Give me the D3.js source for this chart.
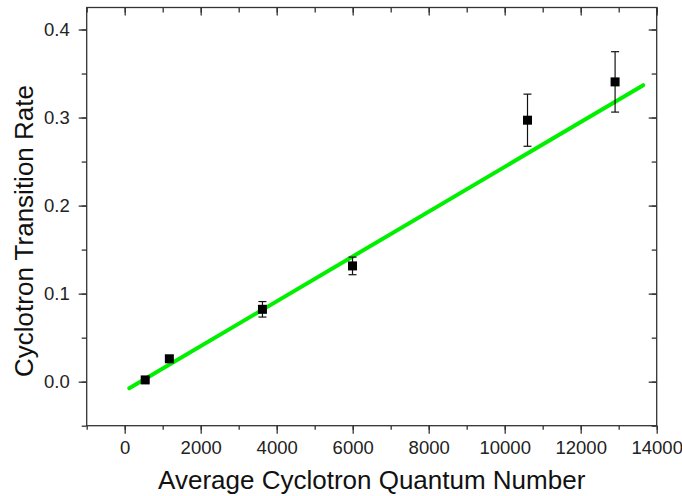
<!DOCTYPE html>
<html>
<head>
<meta charset="utf-8">
<script src="https://cdn.jsdelivr.net/npm/d3@7"></script>
<style>
  body { margin: 0; background: #fff; }
  .axis text { font-family: "Liberation Sans", Arial, sans-serif; font-size: 18.5px; fill: #222; }
  .axis path, .axis line { stroke: #333; stroke-width: 1.3; }
  .title { font-family: "Liberation Sans", Arial, sans-serif; font-size: 26px; fill: #111; }
</style>
</head>
<body>
<div class="chart"></div>
<script>
// data
var quantumNumber = [540, 1175, 3625, 5995, 10600, 12905];
var transitionRate = [0.002, 0.026, 0.0822, 0.1315, 0.297, 0.3405];
var rateError = [0, 0, 0.0088, 0.0100, 0.0296, 0.0343];

// linear fit end points
var fitX = [120, 13645];
var fitY = [-0.0075, 0.3368];

var xMajorTicks = [0, 2000, 4000, 6000, 8000, 10000, 12000, 14000];
var yMajorTicks = [0.0, 0.1, 0.2, 0.3, 0.4];

var svgWidth = 682, svgHeight = 496;
var margin = { top: 7.5, right: 25.3, bottom: 70.3, left: 86.7 };
var chartWidth = svgWidth - margin.left - margin.right;
var chartHeight = svgHeight - margin.top - margin.bottom;

var svg = d3.select(".chart").append("svg")
  .attr("width", svgWidth)
  .attr("height", svgHeight);

var chart = svg.append("g")
  .attr("transform", "translate(" + margin.left + "," + margin.top + ")");

var x = d3.scaleLinear().domain([-1000, 14000]).range([0, chartWidth]);
var y = d3.scaleLinear().domain([-0.05, 0.425]).range([chartHeight, 0]);

var xMinor = d3.range(-1000, 14001, 1000);
var yMinor = d3.range(-0.05, 0.426, 0.05);

// minor ticks (no labels)
chart.append("g").attr("class", "axis")
  .attr("transform", "translate(0," + chartHeight + ")")
  .call(d3.axisBottom(x).tickValues(xMinor).tickSize(4).tickFormat(""));
chart.append("g").attr("class", "axis")
  .call(d3.axisLeft(y).tickValues(yMinor).tickSize(5).tickFormat(""));
chart.append("g").attr("class", "axis")
  .call(d3.axisTop(x).tickValues(xMinor).tickSize(-5).tickFormat(""));
chart.append("g").attr("class", "axis")
  .attr("transform", "translate(" + chartWidth + ",0)")
  .call(d3.axisRight(y).tickValues(yMinor).tickSize(-5).tickFormat(""));

// major ticks
chart.append("g").attr("class", "axis")
  .attr("transform", "translate(0," + chartHeight + ")")
  .call(d3.axisBottom(x).tickValues(xMajorTicks).tickSize(8).tickPadding(7).tickFormat(d3.format("d")));
chart.append("g").attr("class", "axis")
  .call(d3.axisLeft(y).tickValues(yMajorTicks).tickSize(8).tickPadding(9).tickFormat(d3.format(".1f")));
chart.append("g").attr("class", "axis")
  .call(d3.axisTop(x).tickValues(xMajorTicks).tickSize(-8).tickFormat(""));
chart.append("g").attr("class", "axis")
  .attr("transform", "translate(" + chartWidth + ",0)")
  .call(d3.axisRight(y).tickValues(yMajorTicks).tickSize(-8).tickFormat(""));

chart.selectAll(".axis path").attr("d", null);
chart.append("rect")
  .attr("width", chartWidth).attr("height", chartHeight)
  .attr("fill", "none").attr("stroke", "#333").attr("stroke-width", 1.3);

// fit line
chart.append("line")
  .attr("x1", x(fitX[0])).attr("y1", y(fitY[0]))
  .attr("x2", x(fitX[1])).attr("y2", y(fitY[1]))
  .attr("stroke", "#00f000").attr("stroke-width", 4)
  .attr("stroke-linecap", "round");

var points = quantumNumber.map(function(d, i) {
  return { x: d, y: transitionRate[i], err: rateError[i] };
});

// error bars
var bars = chart.selectAll(".err").data(points.filter(function(d) { return d.err > 0; }))
  .enter().append("g").attr("class", "err")
  .attr("stroke", "#111").attr("stroke-width", 1.2);
bars.append("line")
  .attr("x1", function(d) { return x(d.x); }).attr("x2", function(d) { return x(d.x); })
  .attr("y1", function(d) { return y(d.y + d.err); }).attr("y2", function(d) { return y(d.y - d.err); });
bars.append("line")
  .attr("x1", function(d) { return x(d.x) - 4; }).attr("x2", function(d) { return x(d.x) + 4; })
  .attr("y1", function(d) { return y(d.y + d.err); }).attr("y2", function(d) { return y(d.y + d.err); });
bars.append("line")
  .attr("x1", function(d) { return x(d.x) - 4; }).attr("x2", function(d) { return x(d.x) + 4; })
  .attr("y1", function(d) { return y(d.y - d.err); }).attr("y2", function(d) { return y(d.y - d.err); });

// square markers
chart.selectAll(".pt").data(points).enter().append("rect")
  .attr("class", "pt")
  .attr("x", function(d) { return x(d.x) - 4.5; })
  .attr("y", function(d) { return y(d.y) - 4.5; })
  .attr("width", 9).attr("height", 9)
  .attr("fill", "#000");

// axis titles
svg.append("text").attr("class", "title")
  .attr("x", margin.left + chartWidth / 2).attr("y", 489)
  .attr("text-anchor", "middle")
  .text("Average Cyclotron Quantum Number");

svg.append("text").attr("class", "title")
  .attr("transform", "translate(33,231) rotate(-90)")
  .attr("text-anchor", "middle")
  .text("Cyclotron Transition Rate");
</script>
</body>
</html>
